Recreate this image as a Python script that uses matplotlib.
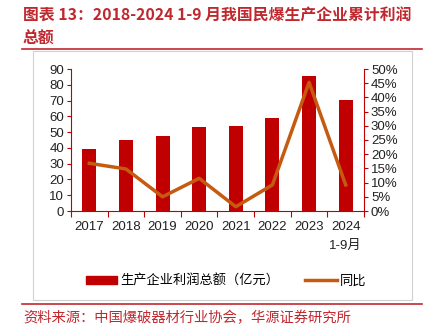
import matplotlib.pyplot as plt
from matplotlib.patches import Rectangle
from matplotlib.lines import Line2D
import numpy as np

plt.rcParams['font.family'] = ['Liberation Sans', 'Noto Sans CJK SC', 'DejaVu Sans']

years = ['2017', '2018', '2019', '2020', '2021', '2022', '2023', '2024\n1-9月']
profit = [39.1, 45.0, 47.5, 53.0, 53.9, 58.9, 85.4, 70.1]
yoy = [16.8, 14.8, 5.0, 11.5, 1.5, 9.2, 45.3, 9.2]

red = '#C00000'
orange = '#C55A11'
title_red = '#C0282E'

W, H = 431, 324
fig = plt.figure(figsize=(W / 100, H / 100), dpi=100)

def fx(px):
    return px / W

def fy(py):
    return 1 - py / H

# title
fig.text(fx(23), fy(16), '图表 13：2018-2024 1-9 月我国民爆生产企业累计利润',
         family=['Noto Sans CJK SC'], fontsize=11.4, fontweight='bold',
         color=title_red, va='center', ha='left')
fig.text(fx(23), fy(39), '总额', family=['Noto Sans CJK SC'], fontsize=11.4,
         fontweight='bold', color=title_red, va='center', ha='left')
fig.add_artist(Line2D([fx(22), fx(422)], [fy(49), fy(49)], color=title_red, lw=1.2))
fig.add_artist(Line2D([fx(22), fx(422)], [fy(304), fy(304)], color=title_red, lw=1.2))
fig.add_artist(Rectangle((fx(33), fy(300)), fx(412) - fx(33), fy(51) - fy(300),
                         fill=False, edgecolor='#D0D0D0', lw=0.8))
fig.text(fx(23), fy(318), '资料来源：中国爆破器材行业协会，华源证券研究所',
         family=['Noto Sans CJK SC'], fontsize=10.3, fontweight='light',
         color=title_red, va='center', ha='left')

ax = fig.add_axes([fx(71), fy(211), fx(364) - fx(71), fy(69) - fy(211)])
x = np.arange(len(years))
ax.bar(x, profit, width=0.38, color=red, zorder=2)
ax.set_xlim(-0.5, len(years) - 0.5)
ax.set_ylim(0, 90)
ax.set_yticks(np.arange(0, 91, 10))
ax.set_xticks(x)
ax.set_xticklabels(years, fontsize=9.5, color='#222222', linespacing=1.75)
ax.set_xticks(np.arange(-0.5, len(years), 1), minor=True)
ax.tick_params(axis='x', which='major', length=0, pad=7)
ax.tick_params(axis='x', which='minor', length=4, color=red, width=0.8)
ax.tick_params(axis='y', length=3, color=red, width=0.8, labelsize=9.5,
               labelcolor='#222222', pad=2)
for s in ['top', 'right']:
    ax.spines[s].set_visible(False)
for s in ['left', 'bottom']:
    ax.spines[s].set_color(red)
    ax.spines[s].set_linewidth(0.8)

ax2 = ax.twinx()
ax2.plot(x, yoy, color=orange, lw=2.5, zorder=3)
ax2.set_ylim(0, 50)
ax2.set_yticks(np.arange(0, 51, 5))
ax2.set_yticklabels([f'{v}%' for v in range(0, 51, 5)])
ax2.tick_params(axis='y', length=3, color=red, width=0.8, labelsize=9.5,
                labelcolor='#222222', pad=2)
for s in ['top', 'left', 'bottom']:
    ax2.spines[s].set_visible(False)
ax2.spines['right'].set_color(red)
ax2.spines['right'].set_linewidth(0.8)

# legend
handles = [Rectangle((0, 0), 1, 1, color=red),
           Line2D([0], [0], color=orange, lw=2.5)]
fig.legend(handles, ['生产企业利润总额（亿元）', '同比'],
           loc='center', bbox_to_anchor=(fx(226), fy(281)), ncol=2,
           frameon=False, prop={'family': ['Noto Sans CJK SC'], 'size': 9.5},
           handlelength=2.4, handleheight=0.6, columnspacing=2.0,
           handletextpad=0.2)

fig.savefig('out.png', dpi=100)
